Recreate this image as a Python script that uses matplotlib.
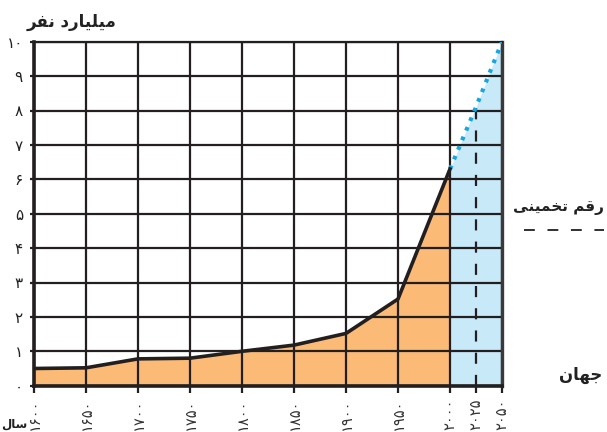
import matplotlib
matplotlib.use("Agg")
import matplotlib.pyplot as plt

# ---------------- data ----------------
years = [1600, 1650, 1700, 1750, 1800, 1850, 1900, 1950, 2000]
population = [0.5, 0.52, 0.78, 0.8, 1.0, 1.18, 1.52, 2.52, 6.3]
proj_years = [2000, 2025, 2050]
proj_pop = [6.3, 8.1, 10.0]
estimate_year = 2025
estimate_value = 8.1
grid_years = [1600, 1650, 1700, 1750, 1800, 1850, 1900, 1950, 2000, 2050]
xtick_years = [1600, 1650, 1700, 1750, 1800, 1850, 1900, 1950, 2000, 2025, 2050]
xtick_labels = ["۱۶۰۰", "۱۶۵۰", "۱۷۰۰", "۱۷۵۰", "۱۸۰۰", "۱۸۵۰", "۱۹۰۰",
                "۱۹۵۰", "۲۰۰۰", "۲۰۲۵", "۲۰۵۰"]
ytick_vals = [0, 1, 2, 3, 4, 5, 6, 7, 8, 9, 10]
ytick_labels = ["۰", "۱", "۲", "۳", "۴", "۵", "۶", "۷", "۸", "۹", "۱۰"]
ylabel_text = "میلیارد نفر"
xlabel_text = "سال"
legend_estimate = "رقم تخمینی"
legend_world = "جهان"

# ------------- minimal Persian shaping (presentation forms + RTL) -------------
FORMS = {  # isolated, final, initial, medial
    "ا": ("\uFE8D", "\uFE8E", None, None),
    "ب": ("\uFE8F", "\uFE90", "\uFE91", "\uFE92"),
    "ت": ("\uFE95", "\uFE96", "\uFE97", "\uFE98"),
    "ج": ("\uFE9D", "\uFE9E", "\uFE9F", "\uFEA0"),
    "خ": ("\uFEA5", "\uFEA6", "\uFEA7", "\uFEA8"),
    "د": ("\uFEA9", "\uFEAA", None, None),
    "ر": ("\uFEAD", "\uFEAE", None, None),
    "س": ("\uFEB1", "\uFEB2", "\uFEB3", "\uFEB4"),
    "ع": ("\uFEC9", "\uFECA", "\uFECB", "\uFECC"),
    "ف": ("\uFED1", "\uFED2", "\uFED3", "\uFED4"),
    "ق": ("\uFED5", "\uFED6", "\uFED7", "\uFED8"),
    "ل": ("\uFEDD", "\uFEDE", "\uFEDF", "\uFEE0"),
    "م": ("\uFEE1", "\uFEE2", "\uFEE3", "\uFEE4"),
    "ن": ("\uFEE5", "\uFEE6", "\uFEE7", "\uFEE8"),
    "ه": ("\uFEE9", "\uFEEA", "\uFEEB", "\uFEEC"),
    "ی": ("\uFBFC", "\uFBFD", "\uFBFE", "\uFBFF"),
}


def shape(text):
    out = []
    n = len(text)
    for i, ch in enumerate(text):
        if ch not in FORMS:
            out.append(ch)
            continue
        iso, fin, ini, med = FORMS[ch]
        dual = ini is not None
        prev_join = i > 0 and text[i - 1] in FORMS and FORMS[text[i - 1]][2] is not None
        next_join = dual and i < n - 1 and text[i + 1] in FORMS
        if prev_join and next_join:
            out.append(med)
        elif prev_join:
            out.append(fin)
        elif next_join:
            out.append(ini)
        else:
            out.append(iso)
    return "".join(reversed(out))


# ---------------- figure ----------------
W, H = 607, 432
fig = plt.figure(figsize=(W / 100, H / 100), dpi=100)
plt.rcParams["font.family"] = ["DejaVu Sans"]

x0, x1 = 34.0, 502.0
y0, y1 = 385.7, 41.7
ax = fig.add_axes([x0 / W, 1 - y0 / H, (x1 - x0) / W, (y0 - y1) / H])

orange = "#FBBB76"
blue = "#C7E9F8"
dark = "#231F20"

ax.fill_between(years, 0, population, color=orange, lw=0, zorder=1)
ax.fill_between(proj_years, 0, proj_pop, color=blue, lw=0, zorder=1)

for gx in grid_years:
    ax.axvline(gx, color=dark, lw=1.6, zorder=2)
for gy in ytick_vals:
    ax.axhline(gy, color=dark, lw=1.6, zorder=2)

ax.plot([estimate_year, estimate_year], [0, estimate_value], color=dark, lw=1.6,
        dashes=(5, 5), zorder=3)
ax.plot(proj_years, proj_pop, color="#16A5E3", lw=3.0, dashes=(0.9, 1.6),
        zorder=4, solid_capstyle="butt")
ax.plot(years, population, color=dark, lw=2.6, zorder=5, solid_joinstyle="miter")

ax.set_xlim(1600, 2050)
ax.set_ylim(0, 10)

for side in ["left", "bottom"]:
    ax.spines[side].set_linewidth(2.6)
    ax.spines[side].set_color(dark)
    ax.spines[side].set_zorder(6)
ax.spines["right"].set_linewidth(2.4)
ax.spines["right"].set_color("#3a3a3a")
ax.spines["top"].set_linewidth(1.6)
ax.spines["top"].set_color(dark)

ax.set_xticks(xtick_years)
ax.set_xticklabels(xtick_labels, rotation=90, va="top", ha="center",
                   fontsize=10.5, color="#333333")
ax.set_yticks(ytick_vals)
ax.set_yticklabels(ytick_labels, fontsize=11, color="#222222")
ax.tick_params(axis="x", length=5, width=1.6, color=dark, pad=4)
ax.tick_params(axis="y", length=3, width=1.6, color=dark, pad=5)

fig.text(72 / W, 1 - 22 / H, shape(ylabel_text), ha="center", va="center",
         fontsize=12, fontweight="bold", color="#222222")
fig.text(1 / W, 1 - 424 / H, shape(xlabel_text), ha="left", va="center",
         fontsize=8.5, fontweight="bold", color="#222222")
fig.text(604 / W, 1 - 208 / H, shape(legend_estimate), ha="right", va="center",
         fontsize=11, fontweight="bold", color="#222222")
fig.text(602 / W, 1 - 375 / H, shape(legend_world), ha="right", va="center",
         fontsize=12, fontweight="bold", color="#222222")
fig.add_artist(plt.Line2D([524 / W, 604 / W], [1 - 230 / H, 1 - 230 / H],
                          transform=fig.transFigure, color=dark, lw=1.3,
                          dashes=(6, 7)))

fig.savefig("out.png", dpi=100)
